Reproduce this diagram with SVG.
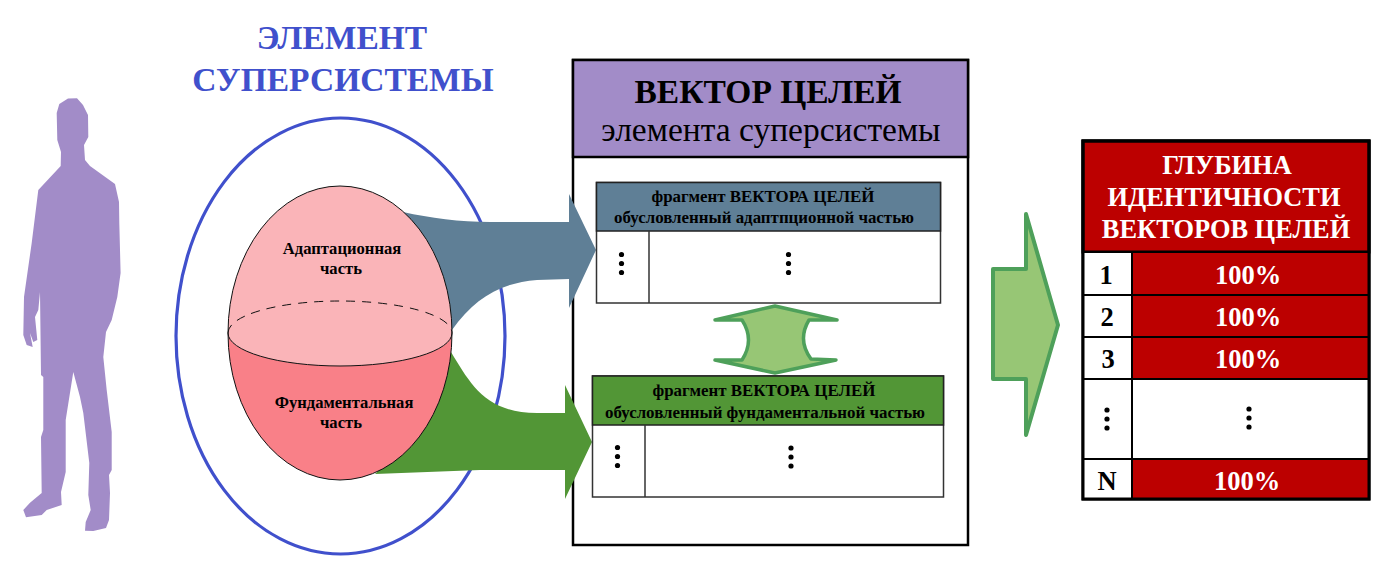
<svg xmlns="http://www.w3.org/2000/svg" width="1385" height="564" viewBox="0 0 1385 564">
<style>
text{font-family:"Liberation Serif","Times New Roman",serif;font-weight:bold;text-anchor:middle;fill:#000}
.t{font-size:33.500px;fill:#4050CC}
.s{font-size:16.600px}
.f{font-size:16.900px}
.w{fill:#fff}
.p{font-size:26.500px}
.box{fill:#fff;stroke:#333;stroke-width:1.500}
.ln{stroke:#333;stroke-width:1.500;fill:none}
.big{fill:#97C675;stroke:#4EA05A;stroke-width:4;stroke-linejoin:round}
.cell{fill:#BC0000;stroke:#000;stroke-width:2}
.wc{fill:#fff;stroke:#000;stroke-width:2}
.e{fill:none;stroke:#111;stroke-width:1}
</style>
<defs>
<g id="dots"><circle cx="0" cy="-9" r="2.600"/><circle cx="0" cy="0" r="2.600"/><circle cx="0" cy="9" r="2.600"/></g>
</defs>
<g id="person"><path fill="#A28CC8" d="M68 98.500L77 98.300L83 105L88 115L88.300 137L84 145L85 160L90 166L115 184L119 202L119.300 223L120.600 273L117.300 297L111.700 320L106 332L103.300 357L106.700 390L111.700 432L111.700 470L109 475L110 493L109 520L106 528L93.300 531L85 530.700L85.700 522L90.700 510L88.300 495L89.300 463L83.300 413L80 397L73.300 372L65.700 420L65.700 472L61 492L61.700 505L46.700 510L41.700 515L26 517.300L23.300 510L30 502.700L41.700 493L41 437L43.300 430L43.300 377L41 375L40 292L38.300 310L35 317L37.300 340L33.300 342L30 333L32.700 347L26.700 345L23.300 335L24 297L31.700 243L38.300 190L60.700 166L61 152L57.300 140L56.700 113L59.300 104Z"/></g>
<g id="title"><text class="t" x="342" y="49">ЭЛЕМЕНТ</text><text class="t" x="343" y="91">СУПЕРСИСТЕМЫ</text></g>
<g id="supersystem"><ellipse cx="340.500" cy="336" rx="164.500" ry="218" fill="#fff" stroke="#4050CC" stroke-width="3.200"/></g>
<g id="vector">
<rect x="573" y="60" width="395" height="485" fill="#fff" stroke="#000" stroke-width="2.500"/>
<rect x="573" y="60" width="395" height="97" fill="#A28CC8" stroke="#000" stroke-width="2.500"/>
<text x="768" y="103" font-size="33.500">ВЕКТОР ЦЕЛЕЙ</text>
<text x="771" y="141" font-size="33.500" style="font-weight:normal">элемента суперсистемы</text>
</g>
<g id="connectors">
<path fill="#5F7F96" d="M403 212C430 218 460 222 490 222L569 222L569 194L596 250L569 308L569 279L537 280C500 283 475 298 452 330L420 270Z"/>
<path fill="#529636" d="M451 352C470 383 485 413 537 413L565 413L565 385L592 442L565 499L565 470L480 470L375 474L430 420Z"/>
</g>
<g id="egg">
<path fill="#FAB4B8" d="M228 333A112 147 0 0 1 452 333A112 33 0 0 1 228 333Z"/>
<path fill="#F98088" d="M228 333A112 33 0 0 0 452 333A112 147 0 0 1 228 333Z"/>
<ellipse class="e" cx="340" cy="333" rx="112" ry="147"/>
<path class="e" d="M228 333A112 33 0 0 0 452 333"/>
<path class="e" d="M228 333A112 32 0 0 1 452 333" stroke-dasharray="9 7"/>
<text class="s" x="342" y="254">Адаптационная</text><text class="s" x="341" y="274">часть</text>
<text class="s" x="344" y="408">Фундаментальная</text><text class="s" x="341" y="428">часть</text>
</g>
<g id="fragment-a">
<rect class="box" x="596.500" y="182.500" width="344" height="120.500"/>
<rect x="596.500" y="182.500" width="344" height="48.500" fill="#5F7F96" stroke="#222" stroke-width="1.500"/>
<line class="ln" x1="649" y1="231" x2="649" y2="303"/>
<text class="f" x="763" y="202">фрагмент ВЕКТОРА ЦЕЛЕЙ</text><text class="f" x="764" y="223">обусловленный адаптпционной частью</text>
<use href="#dots" x="621.500" y="263.500"/><use href="#dots" x="788.500" y="263.500"/>
</g>
<g id="fragment-b">
<rect class="box" x="592.500" y="376" width="351" height="121"/>
<rect x="592.500" y="376" width="351" height="49" fill="#529636" stroke="#222" stroke-width="1.500"/>
<line class="ln" x1="645" y1="425" x2="645" y2="497"/>
<text class="f" x="764" y="396">фрагмент ВЕКТОРА ЦЕЛЕЙ</text><text class="f" x="765" y="418">обусловленный фундаментальной частью</text>
<use href="#dots" x="617.500" y="456.500"/><use href="#dots" x="791" y="457"/>
</g>
<g id="double-arrow"><path class="big" style="stroke-width:3.500" d="M775 306L837 320L809 320Q797 340 811 359L836 360L775 373L715 360L742 360Q755 340 742 320L715 320Z"/></g>
<g id="result-arrow"><path class="big" d="M993 269L1026 269L1026 214L1058 325L1026 435L1026 379L993 379Z"/></g>
<g id="depth-table">
<rect x="1083" y="141" width="286" height="358" fill="#fff" stroke="#000" stroke-width="3"/>
<rect class="cell" x="1083" y="141" width="286" height="111" style="stroke-width:3"/>
<text class="w" x="1227" y="174" font-size="26.400">ГЛУБИНА</text><text class="w" x="1224" y="206" font-size="26.400">ИДЕНТИЧНОСТИ</text><text class="w" x="1226" y="238" font-size="26.400">ВЕКТОРОВ ЦЕЛЕЙ</text>
<rect class="cell" x="1132" y="252" width="237" height="43"/><rect class="cell" x="1132" y="295" width="237" height="42"/><rect class="cell" x="1132" y="337" width="237" height="42"/><rect class="wc" x="1132" y="379" width="237" height="80"/><rect class="cell" x="1132" y="459" width="237" height="40"/>
<rect class="wc" x="1083" y="252" width="49" height="43"/><rect class="wc" x="1083" y="295" width="49" height="42"/><rect class="wc" x="1083" y="337" width="49" height="42"/><rect class="wc" x="1083" y="379" width="49" height="80"/><rect class="wc" x="1083" y="459" width="49" height="40"/>
<rect x="1083" y="141" width="286" height="358" fill="none" stroke="#000" stroke-width="3"/>
<text class="p" x="1106" y="284">1</text><text class="p" x="1107" y="326">2</text><text class="p" x="1108" y="368">3</text><text class="p" x="1107" y="490">N</text>
<text class="w p" x="1248" y="284">100%</text><text class="w p" x="1248" y="326">100%</text><text class="w p" x="1248" y="368">100%</text><text class="w p" x="1247" y="490">100%</text>
<use href="#dots" x="1107" y="419"/><use href="#dots" x="1249" y="418"/>
</g>
</svg>
